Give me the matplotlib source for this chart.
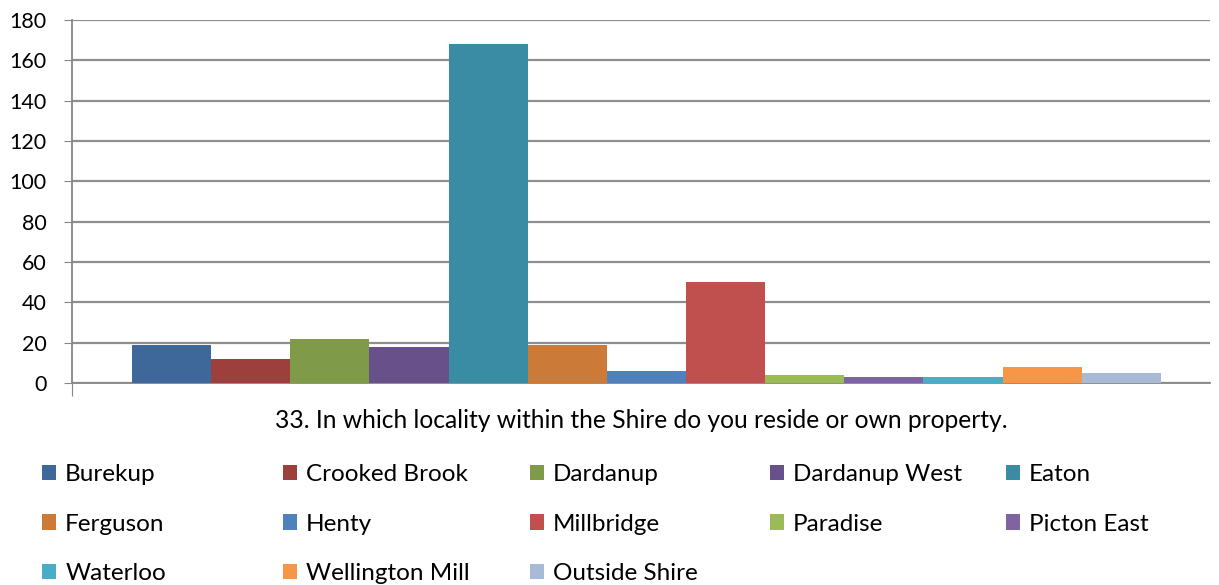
import matplotlib.pyplot as plt

plt.rcParams['font.family'] = ['Lato', 'DejaVu Sans']

# data
localities = ['Burekup', 'Crooked Brook', 'Dardanup', 'Dardanup West', 'Eaton',
              'Ferguson', 'Henty', 'Millbridge', 'Paradise', 'Picton East',
              'Waterloo', 'Wellington Mill', 'Outside Shire']
counts = [19, 12, 22, 18, 168, 19, 6, 50, 4, 3, 3, 8, 5]
colors = ['#3E6899', '#9D3F3D', '#7F9A48', '#68508A', '#3A8CA4', '#CC7A37',
          '#4F81BD', '#C0504D', '#9BBB59', '#8064A2', '#4BACC6', '#F79646',
          '#A9BAD7']
yticks = list(range(0, 181, 20))
xlabel = '33. In which locality within the Shire do you reside or own property.'

fig = plt.figure(figsize=(12.19, 5.85), dpi=100)
ax = fig.add_axes([0.059, 0.3453, 0.9336, 0.6205])

x = list(range(len(counts)))
bars = ax.bar(x, counts, width=1.0, color=colors, zorder=3)

ax.set_xlim(-0.5 - 0.76, len(counts) - 0.5 + 0.62)
ax.set_ylim(0, 180)
ax.set_yticks(yticks)
ax.tick_params(axis='y', labelsize=15.5, length=6, color='#868686', pad=12)
ax.set_xticks([ax.get_xlim()[0]])
ax.set_xticklabels([''])
ax.tick_params(axis='x', length=9, color='#868686')
ax.grid(axis='y', color='#8E8E8E', linewidth=1.6, zorder=0)
for s in ['top', 'right']:
    ax.spines[s].set_visible(False)
for s in ['left', 'bottom']:
    ax.spines[s].set_color('#868686')
    ax.spines[s].set_linewidth(1.3)
ax.set_xlabel(xlabel, fontsize=17.7, labelpad=6)

# legend: one legend per column so the columns sit at fixed places
col_x = [0.0345, 0.2322, 0.4348, 0.6317, 0.8253]
ncols = 5
for c in range(ncols):
    idx = list(range(c, len(counts), ncols))
    leg = fig.legend([bars[i] for i in idx], [localities[i] for i in idx],
                     loc='upper left', bbox_to_anchor=(col_x[c], 0.207),
                     frameon=False, fontsize=17.5, handlelength=0.58,
                     handleheight=0.58, handletextpad=0.37,
                     labelspacing=1.18, borderpad=0, borderaxespad=0)

fig.savefig('out.png', dpi=100)
